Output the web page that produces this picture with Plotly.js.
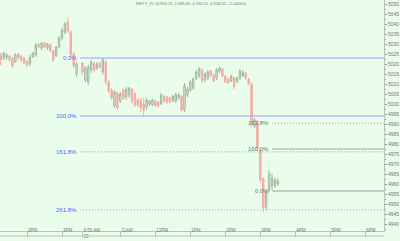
<!DOCTYPE html>
<html><head><meta charset="utf-8">
<script src="https://cdn.plot.ly/plotly-3.0.1.min.js"></script>
<style>html,body{margin:0;padding:0;background:#eafdea;}#chart{width:400px;height:241px;}</style>
</head><body><div id="chart"></div>
<script>
// Bars: 5-minute candles, day 22 (from 1:15 PM) then day 23 (from 9:55 AM)
// time axis = trading minutes counted from 22nd 1:00 PM (overnight gap compressed)
const day22Start = 15, day23Start = 155, barMinutes = 5;
const open = [
5024.5,5023,5023.5,5024,5023,5021,5025,5024,5023,5021.5,5020,5023.5,5024.5,5030,5028,5030.5,5028,5029.5,5026.5,5024,5028.5,5033,5036,5041,5036,5025,5015,
5020.5,5012,5011,5017,5020.5,5018,5020.5,5016,5021,5011,5007,4999,5005.5,5001.5,5007,5003.5,5004.5,5007.5,5005,5002,5002,5000,4998.5,5000,4999.5,5001.5,5001,5000,5004,5003.5,5003,5001.5,5001.5,5003,5004,4997,5004.5,5007,5008,5013,5014,5017,5012,5013,5016.5,5014.5,5013,5016.5,5017.5,5014,5012.5,5011.5,5013,5011,5013,5014,5015.5,5012.5,5010,4989,4991.5,4977,4962.5,4948.5,4957,4959,4959,4960];
const high = [
5025.5,5026,5025.5,5024.5,5023.5,5025.5,5025.5,5024.5,5023.5,5022,5024.5,5026,5030.5,5030.5,5031,5031,5030.5,5030.5,5027,5029,5034,5038,5041,5043.5,5037,5026,5021,
5021,5019,5019.5,5022,5021,5021,5021,5023,5022,5012,5008,5007,5006,5006,5008,5008.5,5008.5,5008,5006,5003,5003,5003,5003,5002,5002.5,5002,5001.5,5005.5,5004.5,5004,5003.5,5004.5,5005.5,5005.5,5004.5,5010.5,5008.5,5012,5013.5,5017,5018.5,5018,5016,5017,5017,5015.5,5018,5018.5,5018,5014.5,5013,5014.5,5013.5,5013.5,5017.5,5017,5016,5013,5011,4993,4992,4978,4963.5,4957,4967,4965.5,4963,4963];
const low = [
5019.5,5022,5022,5021,5018,5020.5,5022,5021,5020,5018.5,5019,5023,5023.5,5028,5027,5028,5027,5026,5021,5023.5,5028,5032,5035,5035.5,5023,5018,5013.5,
5014.5,5011,5009.5,5015.5,5016,5017,5018,5014.5,5009.5,5005.5,5002,4998,4997,5000.5,5002,5002,5003,5000.5,4998.5,4998.5,4996,4994,4997,4999,4999,4998.5,4998,4999.5,5000.5,5000,5000.5,5001,5000.5,5002,4996,4996,5003.5,5006,5007,5012,5013,5010.5,5011,5012,5013.5,5011,5012,5015.5,5013.5,5010.5,5010,5011,5007.5,5010.5,5012,5013.5,5012,5009.5,4988.5,4988,4977,4960.5,4946,4947,4956,4957,4958,4959];
const close = [
5022,5025.5,5024.5,5022,5019,5024.5,5023,5022,5020.5,5019.5,5023.5,5025.5,5029.5,5028.5,5030.5,5028.5,5030,5026.5,5022,5028.5,5033,5037,5040,5036.5,5024.5,5019,5020,
5016,5018,5018.5,5021,5017,5020,5018.5,5022,5011,5006.5,5003,5006,4998,5005,5003,5007.5,5008,5001.5,4999.5,4999.5,4998,4997,5002,5001.5,5002,4999,4999,5004.5,5001.5,5001,5001,5004,5004.5,5004.5,4997,5009,5007.5,5011,5012.5,5016,5017.5,5012,5015,5016,5014,5011.5,5017,5018,5014,5011,5010.5,5014,5008.5,5013,5016.5,5016,5013,5010,4990,4992,4978,4962,4948,4956,4965,4963,4962,4961.5];
const nDay22 = 27;
const tickVals = [60,120,155,220,280,340,400,460,520,580,640];
const tickText = ['2PM','3PM','9:55 AM<br>23','11AM','12PM','1PM','2PM','3PM','4PM','5PM','6PM'];
// Fibonacci retracement sets
const fibRatios = [0, 1, 1.618, 2.618];
const fibLabels = ['0.0%','100.0%','161.8%','261.8%'];
const fibA = {p0: 5023, p100: 4994, start: 151};
const fibBRatios = [0, 1, 1.618];
const fibBLabels = ['0.0%','100.0%','161.8%'];
const fibB = {p0: 4956.5, p100: 4977.5, start: 480};
const titleText = 'NIFTY_F1 (4,963.15, 4,969.40, 4,950.15, 4,958.05, +5.00000)';

const x = open.map((_, i) => i < nDay22 ? day22Start + barMinutes*i : day23Start + barMinutes*(i - nDay22));
const xEnd = 672;

const traces = [{
  type: 'candlestick', x, open, high, low, close,
  increasing: {line: {color: '#9fb99f', width: 1}, fillcolor: '#dcf2dc'},
  decreasing: {line: {color: '#f5ada5', width: 1}, fillcolor: '#f5ada5'},
  whiskerwidth: 0, showlegend: false, hoverinfo: 'skip'
}];
const annotations = [];
const shapes = [{type: 'line', xref: 'paper', yref: 'paper', x0: 0, x1: 1, y0: -5/231, y1: -5/231,
    line: {color: '#b8c4b8', width: 1}}];
function addFib(f, ratios, labels, solidColor, dotColor, textColor, dotted) {
  ratios.forEach((r, k) => {
    const p = f.p0 + (f.p100 - f.p0) * r;
    shapes.push({type: 'line', xref: 'x', yref: 'y', x0: f.start, x1: xEnd, y0: p, y1: p,
      line: {color: dotted[k] ? dotColor : solidColor, width: 1, dash: dotted[k] ? '1px,2px' : 'solid'}});
    annotations.push({x: f.start, y: p, xref: 'x', yref: 'y', text: labels[k], showarrow: false,
      xanchor: 'right', yanchor: 'middle', xshift: -1, font: {size: 6, color: textColor, family: 'Arial'}});
  });
}
addFib(fibA, fibRatios, fibLabels, '#94a2ff', '#8f9cf0', '#5566ff', [false, false, true, true]);
addFib(fibB, fibBRatios, fibBLabels, '#9aa89a', '#9aa49a', '#6f7f6f', [false, false, true]);

const layout = {
  width: 400, height: 241,
  margin: {l: 0, r: 16, t: 0, b: 10, pad: 0},
  paper_bgcolor: '#eafdea', plot_bgcolor: '#eafdea',
  font: {family: 'Arial', color: '#777'},
  title: {text: titleText, font: {size: 4, color: '#777'}, x: 191/400, xanchor: 'center', y: 1 - 4/241, yanchor: 'middle', xref: 'container', yref: 'container'},
  showlegend: false,
  xaxis: {type: 'linear', range: [13.7, xEnd], tickvals: tickVals, ticktext: tickText,
    showgrid: false, zeroline: false, showline: true, linecolor: '#b8c4b8', linewidth: 1,
    ticks: 'outside', ticklen: 5, tickcolor: '#b8c4b8', tickwidth: 1, tickangle: 0,
    ticklabelposition: 'outside right', ticklabelstandoff: -5, tickfont: {size: 4.5, color: '#777'},
    rangeslider: {visible: false}, fixedrange: true},
  yaxis: {side: 'right', range: [4936.5, 5052], tick0: 5050, dtick: 5,
    showgrid: false, zeroline: false, showline: true, linecolor: '#b8c4b8', linewidth: 1,
    ticks: 'outside', ticklen: 2, tickcolor: '#999', tickfont: {size: 5, color: '#777'},
    minor: {ticks: 'outside', ticklen: 1, dtick: 2.5, tickcolor: '#999'}, fixedrange: true},
  shapes,
  annotations
};
Plotly.newPlot('chart', traces, layout, {displayModeBar: false, staticPlot: true});
</script></body></html>
